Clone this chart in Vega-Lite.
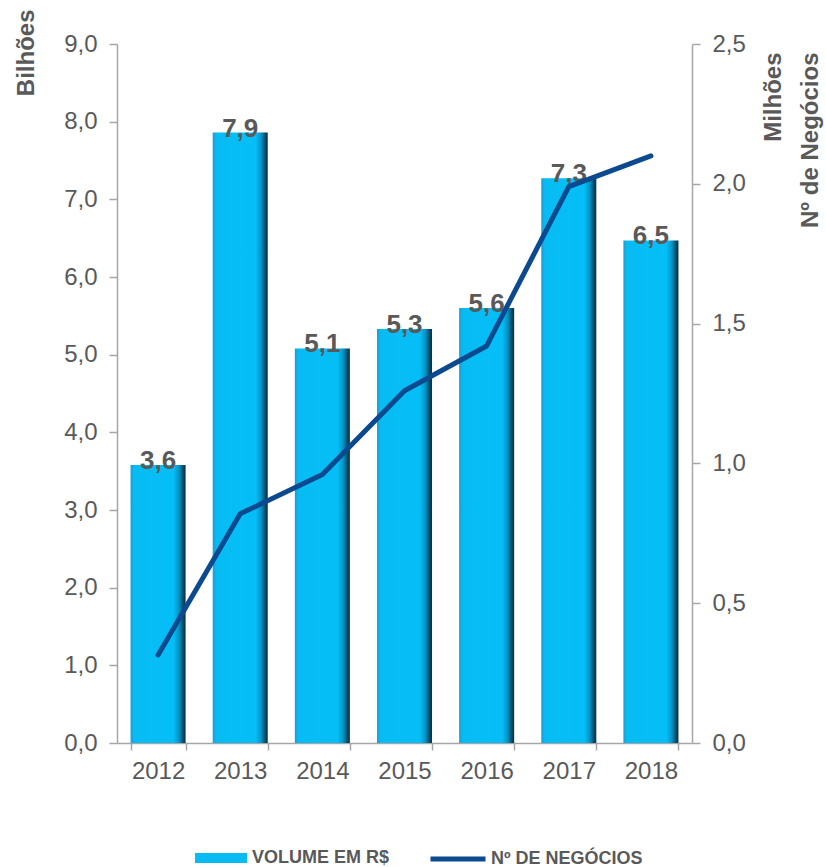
{
  "$schema": "https://vega.github.io/schema/vega-lite/v6.json",
  "width": 575,
  "height": 699,
  "autosize": {"type": "none"},
  "padding": {"left": 117, "top": 44, "right": 134, "bottom": 124},
  "config": {
    "locale": {"number": {"decimal": ",", "thousands": ".", "grouping": [3], "currency": ["R$ ", ""]}},
    "view": {"stroke": null},
    "font": "Liberation Sans",
    "axis": {
      "grid": false,
      "domainColor": "#A6A6A6",
      "domainWidth": 1.5,
      "tickColor": "#A6A6A6",
      "tickWidth": 1.5,
      "tickSize": 8,
      "labelColor": "#595959",
      "labelFont": "Liberation Sans",
      "labelFontSize": 24,
      "titleColor": "#595959",
      "titleFont": "Liberation Sans",
      "titleFontSize": 24,
      "titleFontWeight": "bold"
    },
    "legend": {
      "labelFont": "Liberation Sans",
      "labelFontSize": 18,
      "labelFontWeight": "bold",
      "labelColor": "#595959"
    }
  },
  "data": {
    "values": [
      {"ano": "2012", "volume": 3.58, "negocios": 0.315},
      {"ano": "2013", "volume": 7.86, "negocios": 0.82},
      {"ano": "2014", "volume": 5.08, "negocios": 0.96},
      {"ano": "2015", "volume": 5.33, "negocios": 1.26},
      {"ano": "2016", "volume": 5.6, "negocios": 1.42},
      {"ano": "2017", "volume": 7.27, "negocios": 1.99},
      {"ano": "2018", "volume": 6.47, "negocios": 2.1}
    ]
  },
  "encoding": {
    "x": {
      "field": "ano",
      "type": "ordinal",
      "scale": {"paddingInner": 0.33, "paddingOuter": 0.165},
      "axis": {"title": null, "labelAngle": 0, "tickBand": "extent", "labelPadding": 9, "tickSize": 7}
    }
  },
  "layer": [
    {
      "layer": [
        {
          "mark": {
            "type": "bar",
            "fill": {
              "gradient": "linear",
              "x1": 0, "y1": 0, "x2": 1, "y2": 0,
              "stops": [
                {"offset": 0, "color": "#1A9ED4"},
                {"offset": 0.07, "color": "#08BCF3"},
                {"offset": 0.78, "color": "#05BEF7"},
                {"offset": 0.88, "color": "#0394C6"},
                {"offset": 0.95, "color": "#05506E"},
                {"offset": 1, "color": "#062E40"}
              ]
            }
          },
          "encoding": {
            "y": {
              "field": "volume",
              "type": "quantitative",
              "scale": {"domain": [0, 9], "nice": false},
              "axis": {
                "title": "Bilhões",
                "values": [0, 1, 2, 3, 4, 5, 6, 7, 8, 9],
                "format": ".1f",
                "labelPadding": 12,
                "titleAngle": -90,
                "titleAlign": "right",
                "titleBaseline": "alphabetic",
                "titleX": -84,
                "titleY": -35
              }
            },
            "color": {
              "datum": "VOLUME EM R$",
              "scale": {"domain": ["VOLUME EM R$"], "range": ["#08BCF3"]},
              "legend": {
                "title": null,
                "orient": "none",
                "legendX": 78,
                "legendY": 788,
                "symbolType": "M-1,-0.19H1V0.19H-1Z",
                "symbolSize": 2704,
                "symbolStrokeWidth": 0,
                "labelOffset": 5
              }
            }
          }
        },
        {
          "mark": {"type": "text", "baseline": "alphabetic", "dy": 4, "fontSize": 26, "fontWeight": "bold", "color": "#595959", "font": "Liberation Sans"},
          "encoding": {
            "y": {"field": "volume", "type": "quantitative"},
            "text": {"field": "volume", "type": "quantitative", "format": ".1f"}
          }
        }
      ]
    },
    {
      "mark": {"type": "line", "strokeWidth": 5, "strokeCap": "round", "strokeJoin": "round"},
      "encoding": {
        "y": {
          "field": "negocios",
          "type": "quantitative",
          "scale": {"domain": [0, 2.5], "nice": false},
          "axis": {
            "orient": "right",
            "title": ["Milhões", "Nº de Negócios"],
            "values": [0, 0.5, 1, 1.5, 2, 2.5],
            "format": ".1f",
            "labelPadding": 12,
            "titleAngle": -90,
            "titleAlign": "right",
            "titleBaseline": "alphabetic",
            "titleLineHeight": 37,
            "titleX": 88,
            "titleY": 8
          }
        },
        "stroke": {
          "datum": "Nº DE NEGÓCIOS",
          "scale": {"domain": ["Nº DE NEGÓCIOS"], "range": ["#0B4A8E"]},
          "legend": {
            "title": null,
            "orient": "none",
            "legendX": 311,
            "legendY": 785,
            "symbolType": "stroke",
            "symbolSize": 3025,
            "symbolStrokeWidth": 5,
            "labelOffset": 3
          }
        }
      }
    }
  ],
  "resolve": {"scale": {"y": "independent"}}
}
